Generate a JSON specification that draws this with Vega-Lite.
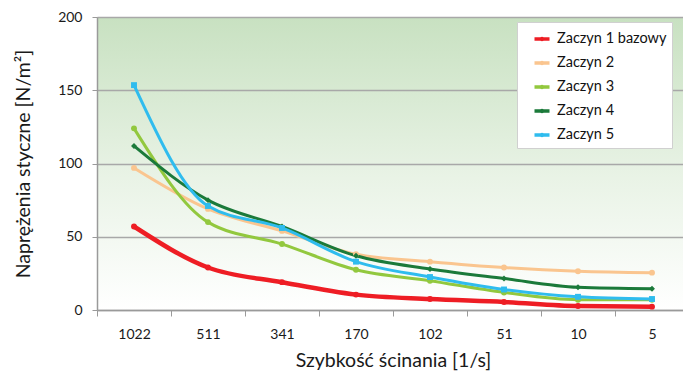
{
  "$schema": "https://vega.github.io/schema/vega-lite/v6.json",
  "width": 592,
  "height": 293,
  "autosize": {"type": "none"},
  "padding": {"left": 97, "top": 17, "right": 0, "bottom": 66},
  "config": {
    "font": "Lato",
    "view": {
      "stroke": null,
      "fill": {
        "gradient": "linear", "x1": 0, "y1": 0, "x2": 0, "y2": 1,
        "stops": [
          {"offset": 0, "color": "#c8e1c1"},
          {"offset": 0.55, "color": "#e9f3e6"},
          {"offset": 1, "color": "#ffffff"}
        ]
      }
    }
  },
  "data": {
    "values": [
      {"s": "Zaczyn 1 bazowy", "x": "1022", "y": 57},
      {"s": "Zaczyn 1 bazowy", "x": "511", "y": 29},
      {"s": "Zaczyn 1 bazowy", "x": "341", "y": 19},
      {"s": "Zaczyn 1 bazowy", "x": "170", "y": 10.5},
      {"s": "Zaczyn 1 bazowy", "x": "102", "y": 7.5},
      {"s": "Zaczyn 1 bazowy", "x": "51", "y": 5.5},
      {"s": "Zaczyn 1 bazowy", "x": "10", "y": 2.7},
      {"s": "Zaczyn 1 bazowy", "x": "5", "y": 2.3},
      {"s": "Zaczyn 2", "x": "1022", "y": 97},
      {"s": "Zaczyn 2", "x": "511", "y": 69},
      {"s": "Zaczyn 2", "x": "341", "y": 54},
      {"s": "Zaczyn 2", "x": "170", "y": 38},
      {"s": "Zaczyn 2", "x": "102", "y": 33},
      {"s": "Zaczyn 2", "x": "51", "y": 29},
      {"s": "Zaczyn 2", "x": "10", "y": 26.5},
      {"s": "Zaczyn 2", "x": "5", "y": 25.5},
      {"s": "Zaczyn 3", "x": "1022", "y": 124},
      {"s": "Zaczyn 3", "x": "511", "y": 60},
      {"s": "Zaczyn 3", "x": "341", "y": 45},
      {"s": "Zaczyn 3", "x": "170", "y": 27.5},
      {"s": "Zaczyn 3", "x": "102", "y": 20},
      {"s": "Zaczyn 3", "x": "51", "y": 12},
      {"s": "Zaczyn 3", "x": "10", "y": 7},
      {"s": "Zaczyn 3", "x": "5", "y": 7},
      {"s": "Zaczyn 4", "x": "1022", "y": 112},
      {"s": "Zaczyn 4", "x": "511", "y": 75},
      {"s": "Zaczyn 4", "x": "341", "y": 57},
      {"s": "Zaczyn 4", "x": "170", "y": 37},
      {"s": "Zaczyn 4", "x": "102", "y": 28},
      {"s": "Zaczyn 4", "x": "51", "y": 21.5},
      {"s": "Zaczyn 4", "x": "10", "y": 15.5},
      {"s": "Zaczyn 4", "x": "5", "y": 14.5},
      {"s": "Zaczyn 5", "x": "1022", "y": 153.5},
      {"s": "Zaczyn 5", "x": "511", "y": 71},
      {"s": "Zaczyn 5", "x": "341", "y": 56},
      {"s": "Zaczyn 5", "x": "170", "y": 33},
      {"s": "Zaczyn 5", "x": "102", "y": 22.5},
      {"s": "Zaczyn 5", "x": "51", "y": 14},
      {"s": "Zaczyn 5", "x": "10", "y": 9},
      {"s": "Zaczyn 5", "x": "5", "y": 7.5}
    ]
  },
  "encoding": {
    "x": {
      "field": "x", "type": "ordinal",
      "sort": ["1022", "511", "341", "170", "102", "51", "10", "5"],
      "scale": {"paddingInner": 0, "paddingOuter": 0},
      "axis": {
        "title": "Szybkość ścinania [1/s]",
        "titleFont": "Lato", "titleFontSize": 19.5, "titleFontWeight": "normal", "titleColor": "#1a1a1a",
        "titlePadding": 10,
        "labelAngle": 0, "labelFontSize": 14, "labelColor": "#1a1a1a", "labelPadding": 11,
        "tickBand": "extent", "tickSize": 6, "tickColor": "#9a9a9a",
        "domainColor": "#9a9a9a", "domainWidth": 1.5, "grid": false
      }
    },
    "y": {
      "field": "y", "type": "quantitative",
      "scale": {"domain": [0, 200], "nice": false},
      "axis": {
        "title": "Naprężenia styczne [N/m²]",
        "titleFont": "Lato", "titleFontSize": 19.5, "titleFontWeight": "normal", "titleColor": "#1a1a1a",
        "titlePadding": 24,
        "values": [0, 50, 100, 150, 200],
        "labelFontSize": 14, "labelColor": "#1a1a1a", "labelPadding": 10,
        "tickSize": 5, "tickColor": "#9a9a9a",
        "domainColor": "#9a9a9a", "domainWidth": 1.5,
        "grid": true, "gridColor": "#a8a8a8", "gridWidth": 1.5
      }
    },
    "color": {
      "field": "s", "type": "nominal",
      "scale": {
        "domain": ["Zaczyn 1 bazowy", "Zaczyn 2", "Zaczyn 3", "Zaczyn 4", "Zaczyn 5"],
        "range": ["#ee1d24", "#fac58f", "#92c83e", "#1b7a3a", "#2fbcee"]
      },
      "legend": {
        "title": null,
        "orient": "none", "legendX": 420, "legendY": 5,
        "symbolType": "M-0.75,0H0.75M0.06,0A0.06,0.06 0 1,1 -0.06,0A0.06,0.06 0 1,1 0.06,0",
        "symbolSize": 400, "symbolStrokeWidth": 3.5, "symbolOffset": 8,
        "labelFont": "Lato", "labelFontSize": 14.5, "labelColor": "#111", "labelOffset": 3,
        "rowPadding": 4, "padding": 5,
        "fillColor": "white", "strokeColor": "#d0d0d0"
      }
    }
  },
  "layer": [
    {
      "transform": [{"filter": "datum.s !== 'Zaczyn 1 bazowy'"}],
      "mark": {"type": "line", "interpolate": "monotone", "strokeWidth": 3}
    },
    {
      "transform": [{"filter": "datum.s === 'Zaczyn 1 bazowy'"}],
      "mark": {"type": "line", "interpolate": "monotone", "strokeWidth": 4.5}
    },
    {
      "mark": {"type": "point", "filled": true, "opacity": 1, "strokeWidth": 0},
      "encoding": {
        "color": null,
        "fill": {
          "field": "s", "type": "nominal",
          "scale": {
            "domain": ["Zaczyn 5", "Zaczyn 4", "Zaczyn 3", "Zaczyn 2", "Zaczyn 1 bazowy"],
            "range": ["#2fbcee", "#1b7a3a", "#92c83e", "#fac58f", "#ee1d24"]
          },
          "legend": null
        },
        "shape": {
          "field": "s", "type": "nominal",
          "scale": {
            "domain": ["Zaczyn 5", "Zaczyn 4", "Zaczyn 3", "Zaczyn 2", "Zaczyn 1 bazowy"],
            "range": ["square", "diamond", "circle", "circle", "circle"]
          },
          "legend": null
        },
        "size": {
          "field": "s", "type": "nominal",
          "scale": {
            "domain": ["Zaczyn 5", "Zaczyn 4", "Zaczyn 3", "Zaczyn 2", "Zaczyn 1 bazowy"],
            "range": [35, 35, 40, 25, 75]
          },
          "legend": null
        }
      }
    }
  ]
}
